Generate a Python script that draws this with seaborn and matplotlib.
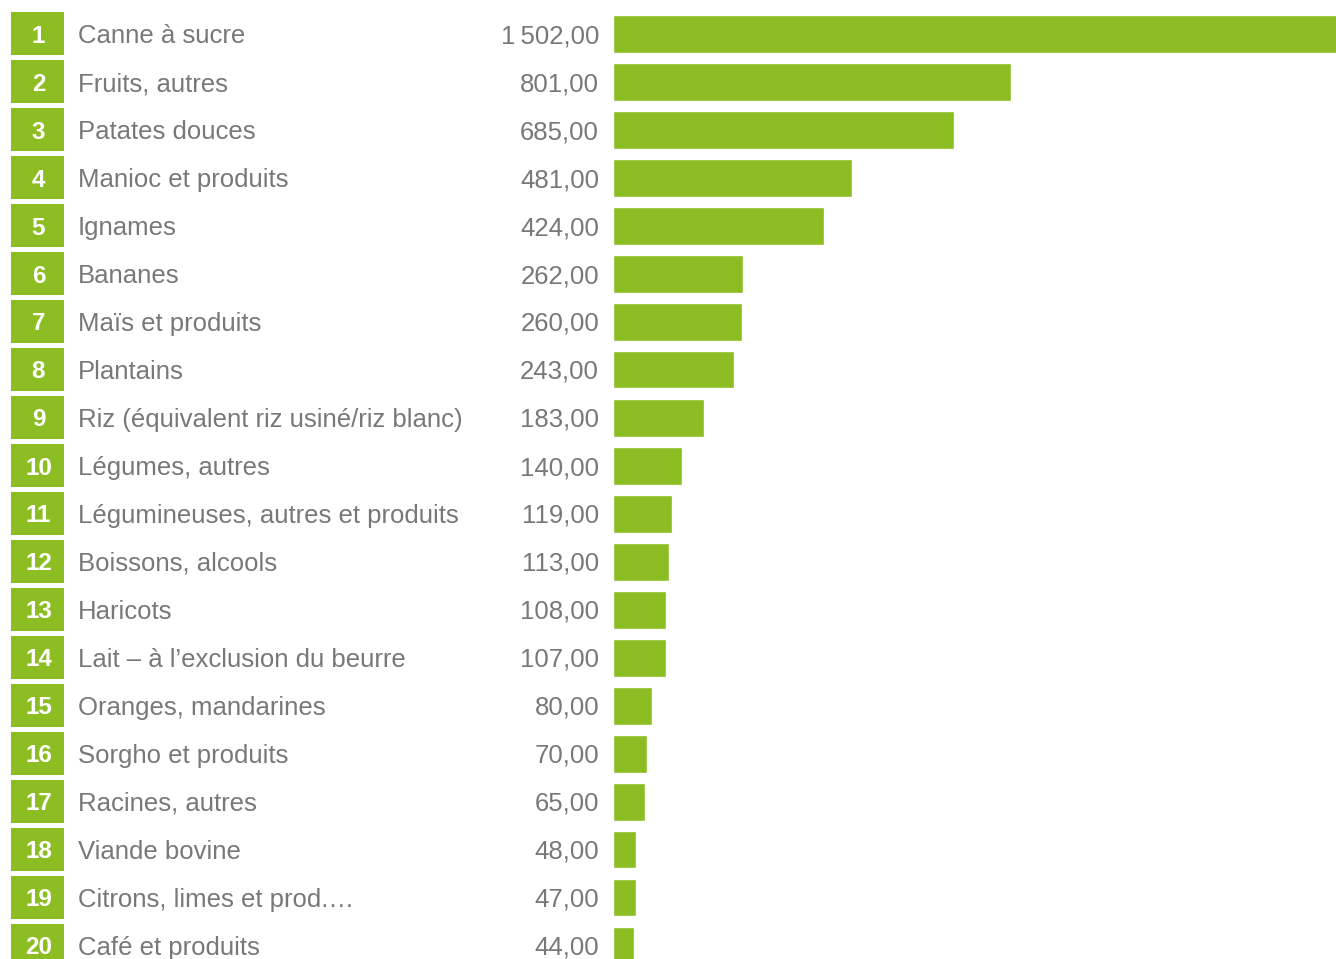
import matplotlib
matplotlib.use("Agg")
import matplotlib.pyplot as plt
from matplotlib.patches import Rectangle
from matplotlib.transforms import blended_transform_factory
import seaborn as sns
import pandas as pd

# Production ranking (quantities, top 20 products)
ranks = list(range(1, 21))
products = [
    "Canne à sucre", "Fruits, autres", "Patates douces", "Manioc et produits",
    "Ignames", "Bananes", "Maïs et produits", "Plantains",
    "Riz (équivalent riz usiné/riz blanc)", "Légumes, autres",
    "Légumineuses, autres et produits", "Boissons, alcools", "Haricots",
    "Lait – à l’exclusion du beurre", "Oranges, mandarines",
    "Sorgho et produits", "Racines, autres", "Viande bovine",
    "Citrons, limes et prod.…", "Café et produits",
]
values = [1502, 801, 685, 481, 424, 262, 260, 243, 183, 140,
          119, 113, 108, 107, 80, 70, 65, 48, 47, 44]

GREEN = "#8CBE23"
GREY = "#787878"

df = pd.DataFrame({"rank": ranks, "produit": products, "valeur": values})

W, H = 1336, 959
fig = plt.figure(figsize=(W / 100, H / 100), dpi=100)
sns.set_style("white")
plt.rcParams["font.family"] = ["Liberation Sans", "DejaVu Sans"]

bar_left = 612.5
ax = fig.add_axes([bar_left / W, 0, (W - bar_left) / W, 1])
sns.barplot(data=df, x="valeur", y="produit", orient="h", color=GREEN,
            saturation=1, width=38 / 48, ax=ax, order=products)

# one row every 48 px, first row centred 33.5 px from the top
row_px, first_px = 48, 33.5
ax.set_ylim((H - first_px) / row_px, -first_px / row_px)
ax.set_xlim(0, (W - bar_left) / 0.498)
ax.set_axis_off()

tr = blended_transform_factory(fig.transFigure, ax.transData)
box_h = 43 / row_px
for i, (r, name, v) in enumerate(zip(ranks, products, values)):
    fig.patches.append(Rectangle((11 / W, i - box_h / 2), 53 / W, box_h,
                                 transform=tr, facecolor=GREEN,
                                 edgecolor="none", zorder=1))
    fig.text(38.5 / W, i, str(r), transform=tr, ha="center", va="center_baseline",
             color="white", fontsize=17.5, fontweight="bold")
    fig.text(78 / W, i, name, transform=tr, ha="left", va="center_baseline",
             color=GREY, fontsize=18.5)
    label = f"{v:,.2f}".replace(",", "\u2009").replace(".", ",")
    fig.text(599 / W, i, label, transform=tr, ha="right", va="center_baseline",
             color=GREY, fontsize=18.5, family=["Liberation Sans", "DejaVu Sans"])

fig.savefig("out.png", dpi=100, facecolor="white")
